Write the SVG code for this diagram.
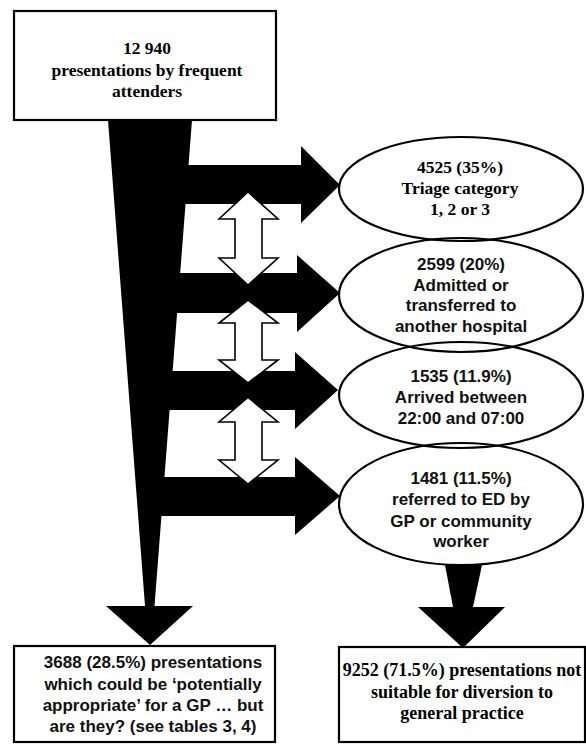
<svg xmlns="http://www.w3.org/2000/svg" width="586" height="754" viewBox="0 0 586 754">
<style>
.box{fill:#fff;stroke:#000;stroke-width:2.2}
.ell{fill:none;stroke:#000;stroke-width:2.2}
.blk{fill:#000;stroke:none}
.dbl{fill:#fff;stroke:#000;stroke-width:1.6;stroke-linejoin:miter}
.serif{font-family:"Liberation Serif","Times New Roman",serif;font-weight:bold;font-size:17.5px;text-anchor:middle;fill:#000}
.sans{font-family:"Liberation Sans",Arial,sans-serif;font-weight:bold;font-size:17px;text-anchor:middle;fill:#111}
</style>
<rect width="586" height="754" fill="#fff"/>
<g id="connectors">
  <!-- main trunk and bottom-left arrow -->
  <polygon class="blk" points="108,120 192,120 154.5,606 145,606"/>
  <polygon class="blk" points="106,606 193,606 150,645"/>
  <!-- horizontal arrows -->
  <polygon class="blk" points="160,165 301,165 301,146 340,185 301,223 301,204 160,204"/>
  <polygon class="blk" points="160,273 297,273 297,255 340,293 297,332 297,313 160,313"/>
  <polygon class="blk" points="160,371 295,371 295,352 338,390 295,429 295,410 160,410"/>
  <polygon class="blk" points="150,477 295,477 295,457 340,496 295,535 295,516 150,516"/>
  <!-- double arrows -->
  <polygon class="dbl" points="248,192 278,219 262,219 262,258 278,258 248,285 219,258 235,258 235,219 219,219"/>
  <polygon class="dbl" points="248,300 278,323 262,323 262,360 278,360 248,383 219,360 235,360 235,323 219,323"/>
  <polygon class="dbl" points="248,397.5 278,422 262,422 262,460 278,460 248,484 219,460 235,460 235,422 219,422"/>
  <!-- bottom-right arrow -->
  <polygon class="blk" points="445,565 482,565 473,607 453,607"/>
  <polygon class="blk" points="418,607 505,607 463,648"/>
</g>
<g id="node-total">
  <rect class="box" x="14" y="11" width="262" height="109"/>
  <text class="serif" x="147" y="54">12 940</text>
  <text class="serif" x="147" y="76">presentations by frequent</text>
  <text class="serif" x="147" y="97">attenders</text>
</g>
<g id="node-triage">
  <ellipse class="ell" cx="461" cy="189" rx="122" ry="52"/>
  <text class="serif" x="460" y="173">4525 (35%)</text>
  <text class="serif" x="460" y="194">Triage category</text>
  <text class="serif" x="460" y="215">1, 2 or 3</text>
</g>
<g id="node-admitted">
  <ellipse class="ell" cx="461" cy="295" rx="122" ry="57"/>
  <text class="sans" x="461" y="270">2599 (20%)</text>
  <text class="sans" x="461" y="290.5">Admitted or</text>
  <text class="sans" x="461" y="311">transferred to</text>
  <text class="sans" x="461" y="331.5">another hospital</text>
</g>
<g id="node-night">
  <ellipse class="ell" cx="461" cy="395" rx="122" ry="53"/>
  <text class="sans" x="461" y="382">1535 (11.9%)</text>
  <text class="sans" x="461" y="403">Arrived between</text>
  <text class="sans" x="461" y="424">22:00 and 07:00</text>
</g>
<g id="node-referred">
  <ellipse class="ell" cx="461" cy="504" rx="122" ry="61"/>
  <text class="sans" x="461" y="483.5">1481 (11.5%)</text>
  <text class="sans" x="461" y="505">referred to ED by</text>
  <text class="sans" x="461" y="526.5">GP or community</text>
  <text class="sans" x="461" y="547">worker</text>
</g>
<g id="node-appropriate">
  <rect class="box" x="14" y="646" width="261" height="96"/>
  <text class="sans" x="153" y="668">3688 (28.5%) presentations</text>
  <text class="sans" x="153" y="689.5">which could be ‘potentially</text>
  <text class="sans" x="153" y="711">appropriate’ for a GP … but</text>
  <text class="sans" x="153" y="732">are they? (see tables 3, 4)</text>
</g>
<g id="node-not-suitable">
  <rect class="box" x="339" y="647" width="246" height="95"/>
  <text class="serif" x="462" y="676" style="font-size:18px">9252 (71.5%) presentations not</text>
  <text class="serif" x="462" y="698" style="font-size:18px">suitable for diversion to</text>
  <text class="serif" x="462" y="719" style="font-size:18px">general practice</text>
</g>
</svg>
